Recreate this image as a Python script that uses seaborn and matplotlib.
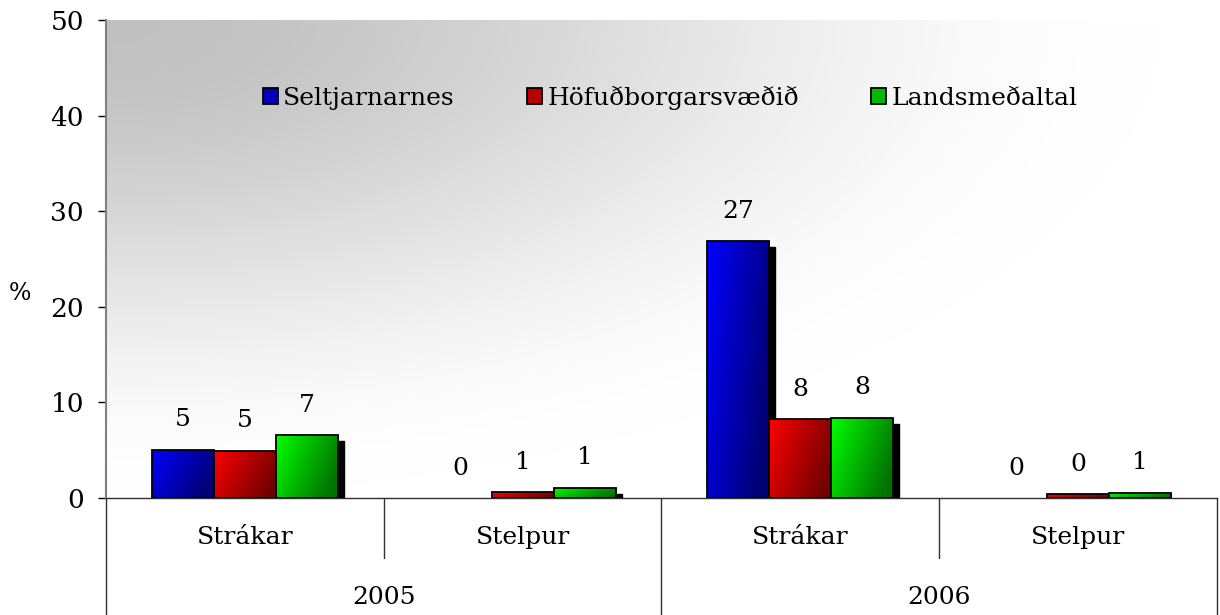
import numpy as np
import pandas as pd
import matplotlib
matplotlib.use('Agg')
import matplotlib.pyplot as plt
import seaborn as sns
from matplotlib import transforms
from matplotlib.patches import Rectangle
from matplotlib.lines import Line2D

years = ['2005', '2006']
genders = ['Strákar', 'Stelpur']
regions = ['Seltjarnarnes', 'Höfuðborgarsvæðið', 'Landsmeðaltal']

# one value per (year, gender) in the order 2005 Strákar, 2005 Stelpur, 2006 Strákar, 2006 Stelpur
seltjarnarnes = [5.06, 0.0, 26.85, 0.0]
hofudborg = [4.96, 0.6, 8.26, 0.4]
landsmedaltal = [6.56, 1.05, 8.41, 0.55]

light = {'Seltjarnarnes': (0.0, 0.0, 1.0),
         'Höfuðborgarsvæðið': (1.0, 0.0, 0.0),
         'Landsmeðaltal': (0.0, 1.0, 0.0)}
dark = {'Seltjarnarnes': (0.0, 0.0, 0.45),
        'Höfuðborgarsvæðið': (0.45, 0.0, 0.0),
        'Landsmeðaltal': (0.0, 0.45, 0.0)}

sns.set_style('white')
plt.rcParams['font.family'] = ['DejaVu Serif']
plt.rcParams['text.color'] = 'black'
plt.rcParams['ytick.color'] = 'black'
plt.rcParams['ytick.labelcolor'] = 'black'

cats = [f'{y} {g}' for y in years for g in genders]
rows = []
for reg, vals in zip(regions, [seltjarnarnes, hofudborg, landsmedaltal]):
    for c, v in zip(cats, vals):
        rows.append({'cat': c, 'region': reg, 'value': v})
df = pd.DataFrame(rows)

fig = plt.figure(figsize=(12.2, 6.15), dpi=100)
pos = [0.0869, 0.1902, 0.9106, 0.7773]

# background gradient: grey in the top-left corner fading to white
bg_ax = fig.add_axes(pos, zorder=0)
u, v = np.meshgrid(np.linspace(0, 1, 300), np.linspace(0, 1, 200))
d = np.clip(np.sqrt((u / 0.95) ** 2 + (v / 1.0) ** 2), 0, 1)
shade = 0.755 + 0.245 * (3 * d ** 2 - 2 * d ** 3)
bg_ax.imshow(np.dstack([shade] * 3), extent=(0, 1, 0, 1), origin='upper',
             aspect='auto', interpolation='bilinear')
bg_ax.axis('off')

ax = fig.add_axes(pos, zorder=1)
ax.set_facecolor('none')

mid = {r: tuple((np.array(light[r]) + np.array(dark[r])) / 2) for r in regions}
sns.barplot(data=df, x='cat', y='value', hue='region', order=cats, hue_order=regions,
            palette=mid, width=0.67, saturation=1, edgecolor='black', linewidth=1.3,
            errorbar=None, legend=False, ax=ax)

bars = list(ax.patches)
info = []
for k, bar in enumerate(bars):
    info.append((bar.get_x(), bar, regions[k // len(cats)]))
info.sort(key=lambda t: t[0])

shadow_tr = transforms.offset_copy(ax.transData, fig=fig, x=6, y=-6, units='dots')
gx, gy = np.meshgrid(np.linspace(0, 1, 60), np.linspace(0, 1, 120))
for i, (x0, bar, reg) in enumerate(info):
    h = bar.get_height()
    w = bar.get_width()
    if h <= 0:
        bar.set_visible(False)
    else:
        ax.add_patch(Rectangle((x0, 0), w, h, transform=shadow_tr, color='black',
                               zorder=2 + 3 * i))
        t = np.clip(0.8 * gx + 0.35 * gy, 0, 1)[..., None]
        grad = np.array(light[reg]) * (1 - t) + np.array(dark[reg]) * t
        im = ax.imshow(grad, extent=(x0, x0 + w, 0, h), origin='upper', aspect='auto',
                       interpolation='bilinear', zorder=3 + 3 * i)
        im.set_clip_path(bar)
        bar.set_facecolor('none')
        bar.set_zorder(4 + 3 * i)
    ax.annotate(f'{h:.0f}', (x0 + w / 2, h), xytext=(0, 21.6), textcoords='offset points',
                ha='center', va='center', fontsize=18)

ax.set_xlim(-0.5, 3.5)
ax.set_ylim(0, 50)
ax.set_yticks(range(0, 51, 10))
ax.tick_params(axis='y', direction='out', length=6, width=1, labelsize=19, pad=10, left=True)
ax.set_xticks([])
ax.set_xlabel('')
ax.set_ylabel('')

for s in ['top', 'right']:
    ax.spines[s].set_visible(False)
ax.spines['left'].set_color('#808080')
ax.spines['left'].set_linewidth(1.5)
ax.spines['bottom'].set_color('#303030')
ax.spines['bottom'].set_linewidth(1)

# two level category axis
trans = transforms.blended_transform_factory(ax.transData, ax.transAxes)
for i, c in enumerate(cats):
    ax.text(i, -0.0816, c.split(' ')[1], transform=trans, ha='center', va='center', fontsize=18)
for j, y in enumerate(years):
    ax.text(2 * j + 0.5, -0.209, y, transform=trans, ha='center', va='center', fontsize=18)
for xs in [0.5, 2.5]:
    ax.add_line(Line2D([xs, xs], [0, -0.1255], transform=trans, clip_on=False,
                       color='#303030', lw=1))
for xs in [-0.5, 1.5, 3.5]:
    ax.add_line(Line2D([xs, xs], [0, -0.245], transform=trans, clip_on=False,
                       color='#303030', lw=1))

fig.text(20 / 1220, 1 - 293 / 615, '%', fontsize=17, ha='center', va='center')

handles = [Rectangle((0, 0), 1, 1, facecolor=mid[r], edgecolor='black', lw=1.3) for r in regions]
ax.legend(handles, regions, loc='center', bbox_to_anchor=(0.508, 0.837), ncol=3,
          frameon=False, fontsize=18, handlelength=0.6, handleheight=0.6,
          handletextpad=0.2, columnspacing=2.9)

fig.savefig('out.png', dpi=100)
